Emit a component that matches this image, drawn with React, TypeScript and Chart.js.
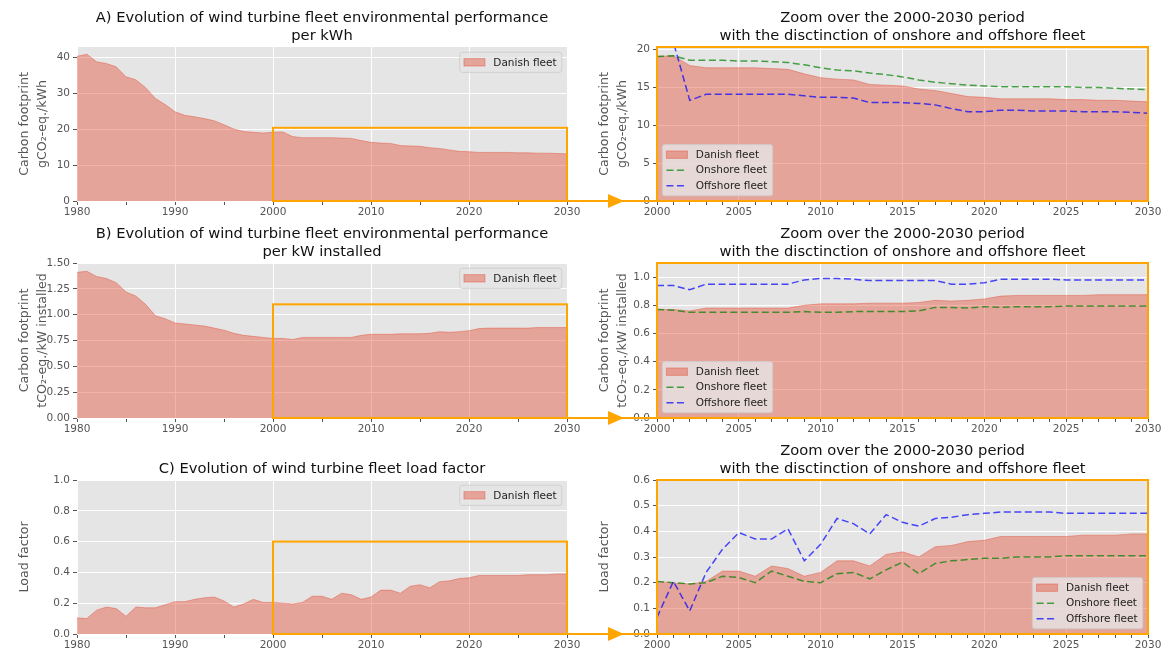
import React, { useEffect, useRef } from 'react';
import { Chart, registerables } from 'chart.js';

Chart.register(...registerables);

// ---------------- data ----------------
const YEARS = [
  1980, 1981, 1982, 1983, 1984, 1985, 1986, 1987, 1988, 1989,
  1990, 1991, 1992, 1993, 1994, 1995, 1996, 1997, 1998, 1999,
  2000, 2001, 2002, 2003, 2004, 2005, 2006, 2007, 2008, 2009,
  2010, 2011, 2012, 2013, 2014, 2015, 2016, 2017, 2018, 2019,
  2020, 2021, 2022, 2023, 2024, 2025, 2026, 2027, 2028, 2029, 2030,
];
const ZOOM_YEARS = [
  2000, 2001, 2002, 2003, 2004, 2005, 2006, 2007, 2008, 2009,
  2010, 2011, 2012, 2013, 2014, 2015, 2016, 2017, 2018, 2019,
  2020, 2021, 2022, 2023, 2024, 2025, 2026, 2027, 2028, 2029, 2030,
];

// A) gCO2-eq./kWh
const FLEET_CO2_PER_KWH = [
  40.2, 40.8, 38.7, 38.2, 37.3, 34.5, 33.7, 31.5, 28.5, 26.8,
  24.8, 23.8, 23.4, 22.9, 22.3, 21.2, 20.0, 19.3, 19.1, 18.9,
  19.1, 19.2, 17.9, 17.6, 17.6, 17.6, 17.6, 17.5, 17.4, 16.8,
  16.3, 16.1, 16.0, 15.4, 15.3, 15.2, 14.8, 14.6, 14.2, 13.8,
  13.7, 13.5, 13.5, 13.5, 13.5, 13.4, 13.4, 13.3, 13.3, 13.2, 13.1,
];
const ONSHORE_CO2_PER_KWH = [
  19.1, 19.2, 18.6, 18.6, 18.6, 18.5, 18.5, 18.4, 18.3, 18.0,
  17.6, 17.3, 17.2, 16.9, 16.7, 16.4, 16.0, 15.7, 15.5, 15.3,
  15.2, 15.1, 15.1, 15.1, 15.1, 15.1, 15.0, 15.0, 14.9, 14.8, 14.7,
];
const OFFSHORE_CO2_PER_KWH = [
  65.0, 21.0, 13.3, 14.1, 14.1, 14.1, 14.1, 14.1, 14.1, 13.9,
  13.7, 13.7, 13.6, 13.0, 13.0, 13.0, 12.9, 12.7, 12.2, 11.8,
  11.8, 12.0, 12.0, 11.9, 11.9, 11.9, 11.8, 11.8, 11.8, 11.7, 11.6,
];

// B) tCO2-eq./kW installed
const FLEET_CO2_PER_KW = [
  1.41, 1.42, 1.37, 1.35, 1.31, 1.22, 1.18, 1.10, 0.99, 0.96,
  0.92, 0.91, 0.90, 0.89, 0.87, 0.85, 0.82, 0.80, 0.79, 0.78,
  0.77, 0.77, 0.76, 0.78, 0.78, 0.78, 0.78, 0.78, 0.78, 0.80,
  0.81, 0.81, 0.81, 0.815, 0.815, 0.815, 0.82, 0.835, 0.83, 0.835,
  0.845, 0.865, 0.87, 0.87, 0.87, 0.87, 0.87, 0.875, 0.875, 0.875, 0.875,
];
const ONSHORE_CO2_PER_KW = [
  0.77, 0.765, 0.75, 0.75, 0.75, 0.75, 0.75, 0.75, 0.75, 0.755,
  0.75, 0.75, 0.755, 0.755, 0.755, 0.755, 0.76, 0.785, 0.785, 0.78,
  0.79, 0.785, 0.79, 0.79, 0.79, 0.795, 0.795, 0.795, 0.795, 0.795, 0.795,
];
const OFFSHORE_CO2_PER_KW = [
  0.94, 0.94, 0.91, 0.95, 0.95, 0.95, 0.95, 0.95, 0.95, 0.98,
  0.99, 0.99, 0.985, 0.975, 0.975, 0.975, 0.975, 0.975, 0.95, 0.95,
  0.96, 0.985, 0.985, 0.985, 0.985, 0.98, 0.98, 0.98, 0.98, 0.98, 0.98,
];

// C) load factor
const FLEET_LOAD_FACTOR = [
  0.105, 0.10, 0.155, 0.175, 0.165, 0.115, 0.175, 0.17, 0.17, 0.19,
  0.21, 0.21, 0.225, 0.235, 0.24, 0.215, 0.175, 0.195, 0.225, 0.205,
  0.205, 0.20, 0.195, 0.205, 0.245, 0.245, 0.225, 0.265, 0.255, 0.225,
  0.24, 0.285, 0.285, 0.265, 0.31, 0.32, 0.30, 0.34, 0.345, 0.36,
  0.365, 0.38, 0.38, 0.38, 0.38, 0.38, 0.385, 0.385, 0.385, 0.39, 0.39,
];
const ONSHORE_LOAD_FACTOR = [
  0.205, 0.20, 0.195, 0.20, 0.225, 0.22, 0.20, 0.245, 0.225, 0.205,
  0.20, 0.235, 0.24, 0.215, 0.25, 0.28, 0.235, 0.275, 0.285, 0.29,
  0.295, 0.295, 0.30, 0.30, 0.30, 0.305, 0.305, 0.305, 0.305, 0.305, 0.305,
];
const OFFSHORE_LOAD_FACTOR = [
  0.065, 0.205, 0.09, 0.24, 0.33, 0.395, 0.37, 0.37, 0.41, 0.285,
  0.35, 0.45, 0.43, 0.39, 0.465, 0.435, 0.42, 0.45, 0.455, 0.465,
  0.47, 0.475, 0.475, 0.475, 0.475, 0.47, 0.47, 0.47, 0.47, 0.47, 0.47,
];

const ZOOM_START = YEARS.indexOf(2000);

const TITLE_A = ['A) Evolution of wind turbine fleet environmental performance', 'per kWh'];
const TITLE_B = ['B) Evolution of wind turbine fleet environmental performance', 'per kW installed'];
const TITLE_C = ['C) Evolution of wind turbine fleet load factor'];
const TITLE_ZOOM = ['Zoom over the 2000-2030 period', 'with the disctinction of onshore and offshore fleet'];
const YLABEL_A = ['Carbon footprint', 'gCO\u2082-eq./kWh'];
const YLABEL_B = ['Carbon footprint', 'tCO\u2082-eq./kW installed'];
const YLABEL_C = ['Load factor'];

// ---------------- styles ----------------
const FONT = "'DejaVu Sans', 'Noto Sans', sans-serif";
const FILL = 'rgba(226,74,51,0.42)';
const ONSHORE = 'rgba(0,128,0,0.7)';
const OFFSHORE = 'rgba(0,0,255,0.7)';
const ORANGE = '#FFA500';
const TXT = '#555555';
const DASH = [7, 3.5];

type Kind = 'fill' | 'onshore' | 'offshore';
interface Series { label: string; x: number[]; y: number[]; kind: Kind }
interface PanelSpec {
  key: string;
  box: { x: number; y: number; w: number; h: number };
  area: { l: number; t: number; r: number; b: number };
  title: string[];
  yTitle: string[];
  yMax: number; yStep: number; yDec: number;
  xMin: number; xMax: number; xMinor: number; xMajor: number;
  series: Series[];
  legend: 'upper right' | 'lower left' | 'lower right';
  zoomTop?: number;
  frame?: boolean;
}

const X_H = 15;

const LEFT_BOX = { x: 0, w: 600 };
const RIGHT_BOX = { x: 560, w: 608 };
const ROWS = [
  { y: 0, h: 216, t: 47, b: 201 },
  { y: 216, h: 217, t: 263, b: 418 },
  { y: 433, h: 219, t: 480, b: 634 },
];

function full(label: string, y: number[]): Series { return { label, x: YEARS, y, kind: 'fill' }; }
function zoomFleet(label: string, y: number[]): Series { return { label, x: ZOOM_YEARS, y: y.slice(ZOOM_START), kind: 'fill' }; }

function leftSpec(key: string, row: number, title: string[], yTitle: string[], yMax: number, yStep: number, yDec: number, fleet: number[], zoomTop: number): PanelSpec {
  const r = ROWS[row];
  return {
    key,
    box: { x: LEFT_BOX.x, y: r.y, w: LEFT_BOX.w, h: r.h },
    area: { l: 77, t: r.t, r: 567, b: r.b },
    title, yTitle, yMax, yStep, yDec,
    xMin: 1980, xMax: 2030, xMinor: 5, xMajor: 10,
    series: [full('Danish fleet', fleet)],
    legend: 'upper right',
    zoomTop,
  };
}

function rightSpec(key: string, row: number, yTitle: string[], yMax: number, yStep: number, yDec: number, fleet: number[], on: number[], off: number[], legend: PanelSpec['legend']): PanelSpec {
  const r = ROWS[row];
  return {
    key,
    box: { x: RIGHT_BOX.x, y: r.y, w: RIGHT_BOX.w, h: r.h },
    area: { l: 657, t: r.t, r: 1148, b: r.b },
    title: TITLE_ZOOM, yTitle, yMax, yStep, yDec,
    xMin: 2000, xMax: 2030, xMinor: 1, xMajor: 5,
    series: [
      zoomFleet('Danish fleet', fleet),
      { label: 'Onshore fleet', x: ZOOM_YEARS, y: on, kind: 'onshore' },
      { label: 'Offshore fleet', x: ZOOM_YEARS, y: off, kind: 'offshore' },
    ],
    legend,
    frame: true,
  };
}

const PANELS: PanelSpec[] = [
  leftSpec('a', 0, TITLE_A, YLABEL_A, 42.8, 10, 0, FLEET_CO2_PER_KWH, 20.35),
  rightSpec('a2', 0, YLABEL_A, 20.35, 5, 0, FLEET_CO2_PER_KWH, ONSHORE_CO2_PER_KWH, OFFSHORE_CO2_PER_KWH, 'lower left'),
  leftSpec('b', 1, TITLE_B, YLABEL_B, 1.5, 0.25, 2, FLEET_CO2_PER_KW, 1.1),
  rightSpec('b2', 1, YLABEL_B, 1.1, 0.2, 1, FLEET_CO2_PER_KW, ONSHORE_CO2_PER_KW, OFFSHORE_CO2_PER_KW, 'lower left'),
  leftSpec('c', 2, TITLE_C, YLABEL_C, 1.0, 0.2, 1, FLEET_LOAD_FACTOR, 0.6),
  rightSpec('c2', 2, YLABEL_C, 0.6, 0.1, 1, FLEET_LOAD_FACTOR, ONSHORE_LOAD_FACTOR, OFFSHORE_LOAD_FACTOR, 'lower right'),
];

// ---------------- drawing helpers ----------------
function roundRect(ctx: CanvasRenderingContext2D, x: number, y: number, w: number, h: number, r: number) {
  ctx.beginPath();
  ctx.moveTo(x + r, y);
  ctx.lineTo(x + w - r, y);
  ctx.arcTo(x + w, y, x + w, y + r, r);
  ctx.lineTo(x + w, y + h - r);
  ctx.arcTo(x + w, y + h, x + w - r, y + h, r);
  ctx.lineTo(x + r, y + h);
  ctx.arcTo(x, y + h, x, y + h - r, r);
  ctx.lineTo(x, y + r);
  ctx.arcTo(x, y, x + r, y, r);
  ctx.closePath();
}

function drawLegend(ctx: CanvasRenderingContext2D, a: any, spec: PanelSpec) {
  const fs = 10.5;
  const pad = 4.2, handle = 21, gap = 8.4, rowH = 15.5, axPad = 5.25;
  ctx.save();
  ctx.font = `${fs}px ${FONT}`;
  const textW = Math.max(...spec.series.map((s) => ctx.measureText(s.label).width));
  const w = pad + handle + gap + textW + pad + 1;
  const h = spec.series.length * rowH - 5.25 + 2 * pad + 1.5;
  let x = a.right - axPad - w;
  let y = a.top + axPad;
  if (spec.legend === 'lower left') { x = a.left + axPad; y = a.bottom - axPad - h; }
  if (spec.legend === 'lower right') { x = a.right - axPad - w; y = a.bottom - axPad - h; }
  roundRect(ctx, x, y, w, h, 2.5);
  ctx.fillStyle = 'rgba(229,229,229,0.8)';
  ctx.fill();
  ctx.strokeStyle = 'rgba(204,204,204,0.8)';
  ctx.lineWidth = 1;
  ctx.stroke();
  spec.series.forEach((s, i) => {
    const cy = y + pad + 0.75 + rowH * i + (rowH - 5.25) / 2;
    const hx = x + pad;
    if (s.kind === 'fill') {
      ctx.fillStyle = FILL;
      ctx.fillRect(hx, cy - 3.7, handle, 7.4);
      ctx.strokeStyle = FILL;
      ctx.strokeRect(hx, cy - 3.7, handle, 7.4);
    } else {
      ctx.strokeStyle = s.kind === 'onshore' ? ONSHORE : OFFSHORE;
      ctx.lineWidth = 1.5;
      ctx.setLineDash(DASH);
      ctx.beginPath();
      ctx.moveTo(hx, cy);
      ctx.lineTo(hx + handle, cy);
      ctx.stroke();
      ctx.setLineDash([]);
    }
    ctx.fillStyle = '#222222';
    ctx.textAlign = 'left';
    ctx.textBaseline = 'middle';
    ctx.fillText(s.label, hx + handle + gap, cy + 0.5);
  });
  ctx.restore();
}

function decorPlugin(spec: PanelSpec) {
  return {
    id: 'decor_' + spec.key,
    beforeDraw(chart: any) {
      const { ctx, chartArea: a } = chart;
      ctx.save();
      ctx.fillStyle = '#E5E5E5';
      ctx.fillRect(a.left, a.top, a.right - a.left, a.bottom - a.top);
      ctx.restore();
    },
    afterDraw(chart: any) {
      const { ctx, chartArea: a, scales } = chart;
      ctx.save();
      // title
      ctx.font = `14.7px ${FONT}`;
      ctx.fillStyle = '#111111';
      ctx.textAlign = 'center';
      ctx.textBaseline = 'middle';
      const cx = (a.left + a.right) / 2;
      const n = spec.title.length;
      spec.title.forEach((line, i) => {
        ctx.fillText(line, cx, a.top - 11 - 18 * (n - 1 - i));
      });
      ctx.restore();

      drawLegend(ctx, a, spec);

      ctx.save();
      ctx.strokeStyle = ORANGE;
      ctx.lineWidth = 2;
      if (spec.zoomTop !== undefined) {
        const x0 = scales.x.getPixelForValue(2000);
        const x1 = scales.x.getPixelForValue(2030);
        const y0 = scales.y.getPixelForValue(0);
        const y1 = scales.y.getPixelForValue(spec.zoomTop);
        ctx.strokeRect(x0, y1, x1 - x0, y0 - y1);
      }
      if (spec.frame) {
        ctx.strokeRect(a.left, a.top, a.right - a.left, a.bottom - a.top);
        // connector arrow from the zoom box of the left panel
        const startX = 567 - spec.box.x;
        ctx.beginPath();
        ctx.moveTo(startX, a.bottom);
        ctx.lineTo(a.left, a.bottom);
        ctx.stroke();
        ctx.fillStyle = ORANGE;
        ctx.beginPath();
        ctx.moveTo(a.left - 49, a.bottom - 7);
        ctx.lineTo(a.left - 33, a.bottom);
        ctx.lineTo(a.left - 49, a.bottom + 7);
        ctx.closePath();
        ctx.fill();
      }
      ctx.restore();
    },
  };
}

function buildDatasets(spec: PanelSpec) {
  return spec.series.map((s) => {
    const data = s.x.map((x, i) => ({ x, y: s.y[i] }));
    if (s.kind === 'fill') {
      return {
        label: s.label, data, fill: 'origin', backgroundColor: FILL, borderColor: FILL,
        borderWidth: 1, pointRadius: 0, tension: 0, order: 2,
      };
    }
    return {
      label: s.label, data, fill: false,
      borderColor: s.kind === 'onshore' ? ONSHORE : OFFSHORE,
      borderWidth: 1.5, borderDash: DASH, pointRadius: 0, tension: 0,
      order: s.kind === 'onshore' ? 1 : 0,
    };
  });
}

function Panel({ spec }: { spec: PanelSpec }) {
  const ref = useRef<HTMLCanvasElement>(null);
  useEffect(() => {
    const { box, area } = spec;
    const yBoxW = area.l - box.x;
    const chart = new Chart(ref.current as HTMLCanvasElement, {
      type: 'line',
      data: { datasets: buildDatasets(spec) as any },
      options: {
        responsive: false,
        animation: false,
        events: [],
        layout: {
          autoPadding: false,
          padding: {
            left: 0,
            top: area.t - box.y,
            right: box.x + box.w - area.r,
            bottom: box.y + box.h - area.b - X_H,
          },
        },
        scales: {
          x: {
            type: 'linear',
            min: spec.xMin,
            max: spec.xMax,
            afterFit: (s: any) => { s.height = X_H; s.paddingLeft = 0; s.paddingRight = 0; },
            border: { display: false },
            grid: {
              color: (c: any) => (c.tick && Math.round(c.tick.value) % spec.xMajor === 0 ? '#FFFFFF' : 'rgba(0,0,0,0)'),
              tickColor: TXT,
              tickLength: 4,
              lineWidth: 1,
            },
            ticks: {
              stepSize: spec.xMinor,
              autoSkip: false,
              maxRotation: 0,
              includeBounds: false,
              padding: 1,
              color: TXT,
              font: { family: FONT, size: 10.5 },
              callback: (v: any) => (Math.round(v) % spec.xMajor === 0 ? String(Math.round(v)) : ''),
            },
          },
          y: {
            type: 'linear',
            min: 0,
            max: spec.yMax,
            afterFit: (s: any) => { s.width = yBoxW; s.paddingTop = 0; s.paddingBottom = 0; },
            border: { display: false },
            grid: { color: '#FFFFFF', tickColor: TXT, tickLength: 4, lineWidth: 1 },
            ticks: {
              stepSize: spec.yStep,
              includeBounds: false,
              padding: 3,
              color: TXT,
              font: { family: FONT, size: 10.5 },
              callback: (v: any) => Number(v).toFixed(spec.yDec),
            },
            title: {
              display: true,
              text: spec.yTitle,
              color: TXT,
              font: { family: FONT, size: 12.6, lineHeight: 18 / 12.6 },
              padding: { top: yBoxW - 77 + 16, bottom: 0 },
            },
          },
        },
        plugins: {
          legend: { display: false },
          tooltip: { enabled: false },
          title: { display: false },
        },
      } as any,
      plugins: [decorPlugin(spec)],
    });
    return () => chart.destroy();
  }, [spec]);
  return (
    <canvas
      ref={ref}
      width={spec.box.w}
      height={spec.box.h}
      style={{ position: 'absolute', left: spec.box.x, top: spec.box.y, width: spec.box.w, height: spec.box.h }}
    />
  );
}

export default function App() {
  return (
    <div style={{ position: 'absolute', left: 0, top: 0, width: 1168, height: 652, background: '#FFFFFF', overflow: 'hidden' }}>
      {PANELS.map((p) => (
        <Panel key={p.key} spec={p} />
      ))}
    </div>
  );
}
